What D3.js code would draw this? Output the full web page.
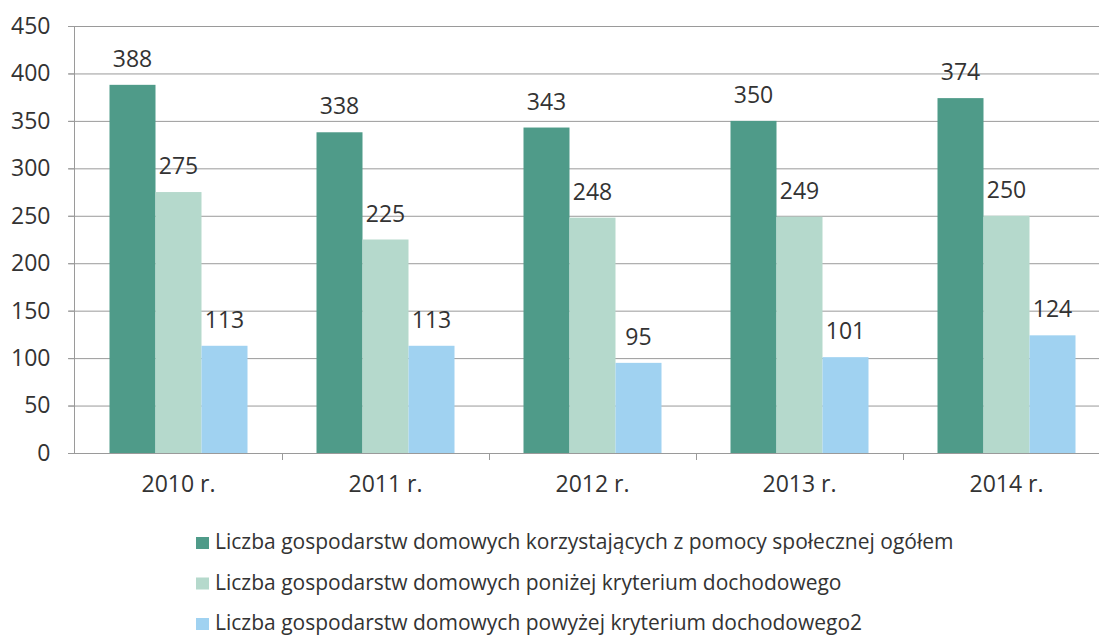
<!DOCTYPE html>
<html>
<head>
<meta charset="utf-8">
<script src="https://cdn.jsdelivr.net/npm/d3@7"></script>
<style>
  body { margin: 0; background: #fff; }
  text { font-family: "Open Sans", sans-serif; fill: #333; }
</style>
</head>
<body>
<script>
// Data
var years = ["2010 r.", "2011 r.", "2012 r.", "2013 r.", "2014 r."];
var seriesNames = [
  "Liczba gospodarstw domowych korzystających z pomocy społecznej ogółem",
  "Liczba gospodarstw domowych poniżej kryterium dochodowego",
  "Liczba gospodarstw domowych powyżej kryterium dochodowego2"
];
var ogolem = [388, 338, 343, 350, 374];
var ponizej = [275, 225, 248, 249, 250];
var powyzej = [113, 113, 95, 101, 124];
var yTicks = [0, 50, 100, 150, 200, 250, 300, 350, 400, 450];

var colors = ["#4f9b89", "#b5d9cc", "#a0d2f1"];
var allSeries = [ogolem, ponizej, powyzej];

var W = 1099, H = 640;
var svg = d3.select("body").append("svg")
    .attr("width", W)
    .attr("height", H);

// Scales
var x = d3.scaleBand().domain(years).range([75, 1110]).paddingInner(0).paddingOuter(0);
var inner = d3.scaleBand().domain([0, 1, 2]).range([0, x.bandwidth()])
    .paddingInner(0).paddingOuter(0.75);
var y = d3.scaleLinear().domain([0, 450]).range([453, 26]);

// Gridlines
svg.append("g").selectAll("line")
    .data(yTicks.slice(1))
    .enter().append("line")
    .attr("x1", 68).attr("x2", W)
    .attr("y1", function(d) { return y(d) + 0.5; })
    .attr("y2", function(d) { return y(d) + 0.5; })
    .attr("stroke", "#9a9a9a").attr("stroke-width", 1);

// Bars
allSeries.forEach(function(vals, si) {
  svg.append("g").selectAll("rect")
      .data(vals)
      .enter().append("rect")
      .attr("x", function(d, i) { return x(years[i]) + inner(si); })
      .attr("y", function(d) { return y(d); })
      .attr("width", inner.bandwidth())
      .attr("height", function(d) { return y(0) - y(d); })
      .attr("fill", colors[si]);

  svg.append("g").selectAll("text")
      .data(vals)
      .enter().append("text")
      .attr("x", function(d, i) { return x(years[i]) + inner(si) + inner.bandwidth() / 2; })
      .attr("y", function(d) { return y(d) - 18; })
      .attr("text-anchor", "middle")
      .attr("font-size", "23px")
      .text(function(d) { return d; });
});

// Y axis
var yAxis = d3.axisLeft(y).tickValues(yTicks).tickSize(6).tickPadding(18);
var gY = svg.append("g").attr("transform", "translate(74.5,0)").call(yAxis);
gY.select(".domain").attr("stroke", "#9a9a9a").attr("d", "M0," + y(450) + "V" + (y(0) + 0.5));
gY.selectAll(".tick line").attr("stroke", "#9a9a9a");
gY.selectAll(".tick text").attr("font-size", "23px").style("font-family", "Open Sans, sans-serif").attr("fill", "#333");

// X axis
var xAxis = d3.axisBottom(x).tickSize(0).tickPadding(22);
var gX = svg.append("g").attr("transform", "translate(0," + (y(0) + 0.5) + ")").call(xAxis);
gX.select(".domain").attr("stroke", "#9a9a9a").attr("d", "M68,0H" + W);
gX.selectAll(".tick text").attr("font-size", "23px").style("font-family", "Open Sans, sans-serif").attr("fill", "#333");
// category separators
svg.append("g").selectAll("line")
    .data(years.slice(1))
    .enter().append("line")
    .attr("x1", function(d) { return Math.round(x(d)) + 0.5; })
    .attr("x2", function(d) { return Math.round(x(d)) + 0.5; })
    .attr("y1", y(0)).attr("y2", y(0) + 7)
    .attr("stroke", "#9a9a9a");

// Legend
var legend = svg.append("g").selectAll("g")
    .data(seriesNames)
    .enter().append("g")
    .attr("transform", function(d, i) { return "translate(196," + (549 + i * 40.5) + ")"; });
legend.append("rect")
    .attr("x", 0).attr("y", -12)
    .attr("width", 13).attr("height", 12)
    .attr("fill", function(d, i) { return colors[i]; });
legend.append("text")
    .attr("x", 19).attr("y", 0)
    .attr("font-size", "21px")
    .text(function(d) { return d; });
</script>
</body>
</html>
